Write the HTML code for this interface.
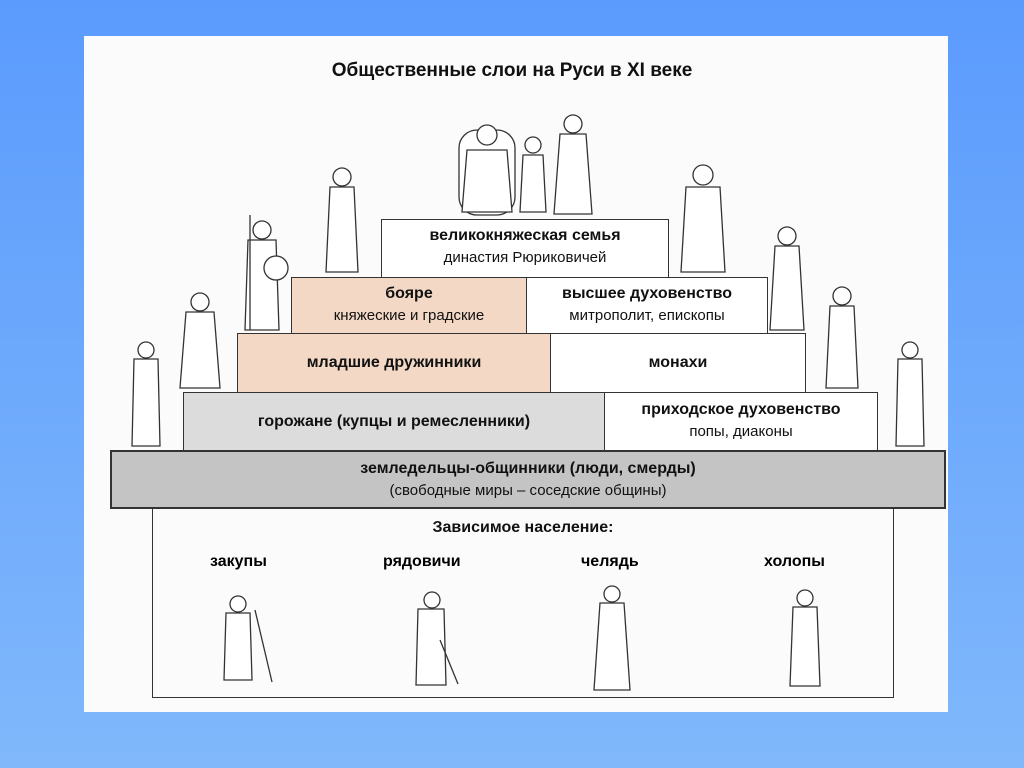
<!DOCTYPE html>
<html><head><meta charset="utf-8">
<style>
body{margin:0;width:1024px;height:768px;overflow:hidden;background:linear-gradient(#5b9bfd,#80b8fb);font-family:"Liberation Sans","DejaVu Sans",sans-serif;}
#page{position:absolute;left:84px;top:36px;width:864px;height:676px;background:#fbfbfb;}
.b{position:absolute;border:1.5px solid #333;box-sizing:border-box;text-align:center;color:#111;}
.t{font-weight:bold;font-size:16px;}
.s{font-size:15px;}
.abs{position:absolute;}
</style></head><body>
<div id="page"></div>
<div class="abs" style="left:0;top:60px;width:1024px;text-align:center;font-weight:bold;font-size:19px;color:#111;">Общественные слои на Руси в XI веке</div>

<div class="b" style="left:381px;top:219px;width:288px;height:59px;background:#fff;"><div class="t" style="margin-top:7px">великокняжеская семья</div><div class="s" style="margin-top:4px">династия Рюриковичей</div></div>

<div class="b" style="left:291px;top:277px;width:236px;height:57px;background:#f3d8c6;"><div class="t" style="margin-top:7px">бояре</div><div class="s" style="margin-top:4px">княжеские и градские</div></div>
<div class="b" style="left:526px;top:277px;width:242px;height:57px;background:#fff;"><div class="t" style="margin-top:7px">высшее духовенство</div><div class="s" style="margin-top:4px">митрополит, епископы</div></div>

<div class="b" style="left:237px;top:333px;width:314px;height:60px;background:#f3d8c6;"><div class="t" style="margin-top:20px">младшие дружинники</div></div>
<div class="b" style="left:550px;top:333px;width:256px;height:60px;background:#fff;"><div class="t" style="margin-top:20px">монахи</div></div>

<div class="b" style="left:183px;top:392px;width:422px;height:59px;background:#dcdcdc;"><div class="t" style="margin-top:20px">горожане (купцы и ремесленники)</div></div>
<div class="b" style="left:604px;top:392px;width:274px;height:59px;background:#fff;"><div class="t" style="margin-top:8px">приходское духовенство</div><div class="s" style="margin-top:4px">попы, диаконы</div></div>

<div class="b" style="left:110px;top:450px;width:836px;height:59px;background:#c4c4c4;border-width:2px;"><div class="t" style="margin-top:8px">земледельцы-общинники (люди, смерды)</div><div class="s" style="margin-top:4px">(свободные миры – соседские общины)</div></div>

<div class="b" style="left:152px;top:508px;width:742px;height:190px;background:#fbfbfb;">
<div class="t" style="margin-top:10px">Зависимое население:</div></div>
<div class="abs t" style="left:210px;top:553px;">закупы</div>
<div class="abs t" style="left:383px;top:553px;">рядовичи</div>
<div class="abs t" style="left:581px;top:553px;">челядь</div>
<div class="abs t" style="left:764px;top:553px;">холопы</div>

<svg class="abs" style="left:0;top:0" width="1024" height="768" fill="none" stroke="#333" stroke-width="1.3">
<g id="figs"></g>
</svg>
<svg class="abs" style="left:0;top:0" width="1024" height="768" fill="#fff" stroke="#333" stroke-width="1.3">
<!-- cx, top, bottom, w -->
<g>
<rect x="459" y="130" width="56" height="85" rx="18"/>
<circle cx="487" cy="135" r="10"/><path d="M467 150 L507 150 L512 212 L462 212Z"/>
<circle cx="533" cy="145" r="8"/><path d="M523 155 L543 155 L546 212 L520 212Z"/>
<circle cx="573" cy="124" r="9"/><path d="M560 134 L586 134 L592 214 L554 214Z"/>
<circle cx="703" cy="175" r="10"/><path d="M686 187 L720 187 L725 272 L681 272Z"/>
<circle cx="262" cy="230" r="9"/><path d="M248 240 L276 240 L279 330 L245 330Z"/><circle cx="276" cy="268" r="12"/><line x1="250" y1="215" x2="250" y2="330"/>
<circle cx="342" cy="177" r="9"/><path d="M330 187 L354 187 L358 272 L326 272Z"/>
<circle cx="200" cy="302" r="9"/><path d="M186 312 L214 312 L220 388 L180 388Z"/>
<circle cx="146" cy="350" r="8"/><path d="M134 359 L158 359 L160 446 L132 446Z"/>
<circle cx="787" cy="236" r="9"/><path d="M775 246 L799 246 L804 330 L770 330Z"/>
<circle cx="842" cy="296" r="9"/><path d="M830 306 L854 306 L858 388 L826 388Z"/>
<circle cx="910" cy="350" r="8"/><path d="M898 359 L922 359 L924 446 L896 446Z"/>
<circle cx="238" cy="604" r="8"/><path d="M226 613 L250 613 L252 680 L224 680Z"/><line x1="255" y1="610" x2="272" y2="682"/>
<circle cx="432" cy="600" r="8"/><path d="M418 609 L444 609 L446 685 L416 685Z"/><line x1="440" y1="640" x2="458" y2="684"/>
<circle cx="612" cy="594" r="8"/><path d="M600 603 L624 603 L630 690 L594 690Z"/>
<circle cx="805" cy="598" r="8"/><path d="M793 607 L817 607 L820 686 L790 686Z"/>
</g>
</svg>
</body></html>
